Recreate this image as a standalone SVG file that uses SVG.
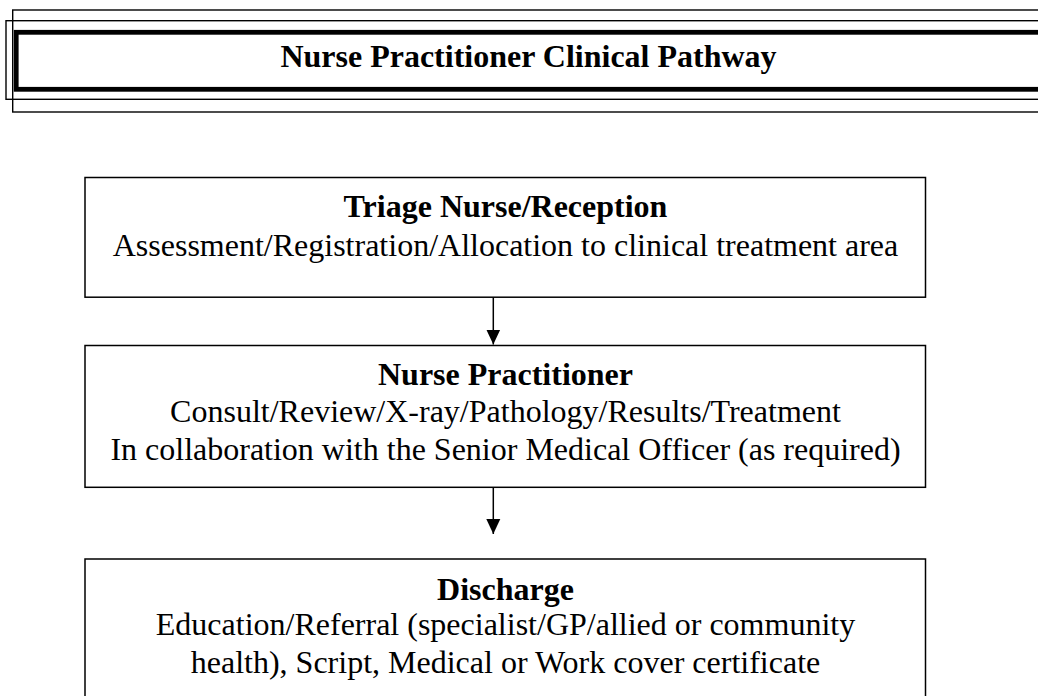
<svg xmlns="http://www.w3.org/2000/svg" width="1038" height="696" viewBox="0 0 1038 696">
<style>
.t{font-family:"Liberation Serif","Times New Roman",serif;font-size:32px;fill:#000;text-anchor:middle}
.b{font-weight:bold}
.box{fill:#fff;stroke:#000;stroke-width:1.5}
.thin{fill:none;stroke:#000;stroke-width:1.4}
.conn{stroke:#000;stroke-width:1.5;fill:none}
</style>
<defs>
<marker id="ah" markerUnits="userSpaceOnUse" markerWidth="16" markerHeight="16" viewBox="0 0 16 16" refX="15" refY="8" orient="auto">
<path d="M0,1 L15,8 L0,15 Z" fill="#000"/>
</marker>
</defs>
<rect width="1038" height="696" fill="#fff"/>
<g id="header">
<rect class="thin" x="12.7" y="10" width="1040" height="102"/>
<rect class="thin" x="6" y="20.7" width="1050" height="78.6"/>
<rect x="16.2" y="32.3" width="1040" height="57" fill="none" stroke="#000" stroke-width="4.8"/>
<text class="t b" x="528.5" y="67">Nurse Practitioner Clinical Pathway</text>
</g>
<g id="triage">
<rect class="box" x="85" y="177.5" width="840.5" height="119.7"/>
<text class="t b" x="505.5" y="217">Triage Nurse/Reception</text>
<text class="t" x="505.5" y="255.5">Assessment/Registration/Allocation to clinical treatment area</text>
</g>
<g id="np">
<rect class="box" x="85" y="345.5" width="840.5" height="141.8"/>
<text class="t b" x="505.5" y="385">Nurse Practitioner</text>
<text class="t" x="505.5" y="421.7">Consult/Review/X-ray/Pathology/Results/Treatment</text>
<text class="t" x="505.5" y="460">In collaboration with the Senior Medical Officer (as required)</text>
</g>
<g id="discharge">
<rect class="box" x="85" y="559" width="840.5" height="160"/>
<text class="t b" x="505.5" y="600">Discharge</text>
<text class="t" x="505.5" y="635.3">Education/Referral (specialist/GP/allied or community</text>
<text class="t" x="505.5" y="673.3">health), Script, Medical or Work cover certificate</text>
</g>
<g id="connectors">
<line class="conn" x1="493.3" y1="297.3" x2="493.3" y2="344.5" marker-end="url(#ah)"/>
<line class="conn" x1="493.3" y1="487.3" x2="493.3" y2="534" marker-end="url(#ah)"/>
</g>
</svg>
